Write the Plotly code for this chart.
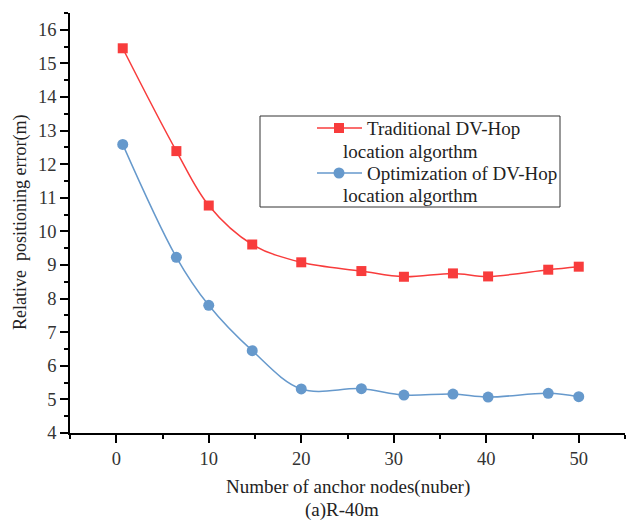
import plotly.graph_objects as go

# Number of anchor nodes
anchor_nodes_trad = [0.7, 6.5, 10.0, 14.7, 20.0, 26.5, 31.1, 36.4, 40.2, 46.7, 50.0]
anchor_nodes_opt = [0.7, 6.5, 10.0, 14.7, 20.0, 26.5, 31.1, 36.4, 40.2, 46.7, 50.0]

# Relative positioning error (m)
err_traditional = [15.45, 12.39, 10.77, 9.61, 9.08, 8.82, 8.65, 8.75, 8.66, 8.86, 8.95]
err_optimized = [12.59, 9.23, 7.80, 6.45, 5.31, 5.32, 5.13, 5.16, 5.07, 5.18, 5.08]

series_names = ["Traditional DV-Hop", "Optimization of DV-Hop"]
name_suffix = "location algorthm"
x_title = "Number of anchor nodes(nuber)"
sub_title = "(a)R-40m"
y_title = "Relative  positioning error(m)"

RED = "#F83C3C"
BLUE = "#6699CC"
FONT = "Liberation Serif"

W, H = 630, 520
L, R, T, B = 70, 5, 13, 87
PW, PH = W - L - R, H - T - B


def px_x(px):
    return (px - L) / PW


def px_y(py):
    return (H - B - py) / PH


fig = go.Figure()
fig.add_trace(go.Scatter(
    x=anchor_nodes_trad, y=err_traditional, mode="lines+markers",
    line=dict(color=RED, width=1.5, shape="spline"),
    marker=dict(symbol="square", size=10, color=RED),
    showlegend=False))
fig.add_trace(go.Scatter(
    x=anchor_nodes_opt, y=err_optimized, mode="lines+markers",
    line=dict(color=BLUE, width=1.5, shape="spline"),
    marker=dict(symbol="circle", size=11, color=BLUE),
    showlegend=False))

axis_common = dict(showline=True, linecolor="black", linewidth=1.5,
                   showgrid=False, zeroline=False, tickcolor="black",
                   tickwidth=1.5)

fig.update_layout(
    width=W, height=H,
    margin=dict(l=L, r=R, t=T, b=B),
    paper_bgcolor="white", plot_bgcolor="white",
    font=dict(family=FONT, size=18, color="#333333"),
    xaxis=dict(range=[-5, 55], dtick=10, tick0=0, ticks="outside", ticklen=8,
               minor=dict(dtick=5, tick0=0, ticks="outside", ticklen=4,
                          tickcolor="black", tickwidth=1.5),
               tickfont=dict(size=18.5, color="#333333"), **axis_common),
    yaxis=dict(range=[4, 16.5], dtick=1, tick0=0, ticks="outside", ticklen=8,
               minor=dict(dtick=0.5, tick0=0, ticks="outside", ticklen=4,
                          tickcolor="black", tickwidth=1.5),
               tickfont=dict(size=18.5, color="#333333"), **axis_common),
    xaxis2=dict(overlaying="x", side="top", anchor="y", range=[-5, 55],
                dtick=10, tick0=0, ticks="inside", ticklen=7,
                showticklabels=False,
                minor=dict(dtick=5, tick0=0, ticks="inside", ticklen=4,
                           tickcolor="black", tickwidth=1.5),
                **axis_common),
    yaxis2=dict(overlaying="y", side="right", anchor="x", range=[4, 16.5],
                dtick=1, tick0=0, ticks="inside", ticklen=7,
                showticklabels=False,
                minor=dict(dtick=0.5, tick0=0, ticks="inside", ticklen=4,
                           tickcolor="black", tickwidth=1.5),
                **axis_common),
)

annotations = [
    dict(text=x_title, x=0.5, y=px_y(487), xref="paper", yref="paper",
         xanchor="center", yanchor="middle", showarrow=False,
         font=dict(family=FONT, size=19, color="#222222")),
    dict(text=sub_title, x=px_x(342), y=px_y(510), xref="paper", yref="paper",
         xanchor="center", yanchor="middle", showarrow=False,
         font=dict(family=FONT, size=19, color="#222222")),
    dict(text=y_title, x=px_x(20), y=px_y(223), xref="paper", yref="paper",
         xanchor="center", yanchor="middle", textangle=-90, showarrow=False,
         font=dict(family=FONT, size=18, color="#222222")),
]

# Legend box drawn by hand so the second text line wraps under the symbol
shapes = [dict(type="rect", xref="paper", yref="paper",
               x0=px_x(260), x1=px_x(560), y0=px_y(116), y1=px_y(207),
               line=dict(color="#333333", width=1), fillcolor="white",
               layer="above")]
entries = [(series_names[0], RED, "square", 128, 151),
           (series_names[1], BLUE, "circle", 173, 195)]
for name, color, sym, ly, ly2 in entries:
    shapes.append(dict(type="line", xref="paper", yref="paper",
                       x0=px_x(317), x1=px_x(362), y0=px_y(ly), y1=px_y(ly),
                       line=dict(color=color, width=1.5), layer="above"))
    r = 5 if sym == "square" else 5.5
    shapes.append(dict(type="rect" if sym == "square" else "circle",
                       xref="paper", yref="paper",
                       x0=px_x(339 - r), x1=px_x(339 + r),
                       y0=px_y(ly - r), y1=px_y(ly + r),
                       line=dict(color=color, width=0), fillcolor=color,
                       layer="above"))
    annotations.append(dict(text=name, x=px_x(365), y=px_y(ly), xref="paper",
                            yref="paper", xanchor="left", yanchor="middle",
                            showarrow=False,
                            font=dict(family=FONT, size=19, color="#222222")))
    annotations.append(dict(text=name_suffix, x=px_x(341), y=px_y(ly2),
                            xref="paper", yref="paper", xanchor="left",
                            yanchor="middle", showarrow=False,
                            font=dict(family=FONT, size=19, color="#222222")))

fig.update_layout(annotations=annotations, shapes=shapes)
fig.write_html("out.html")
